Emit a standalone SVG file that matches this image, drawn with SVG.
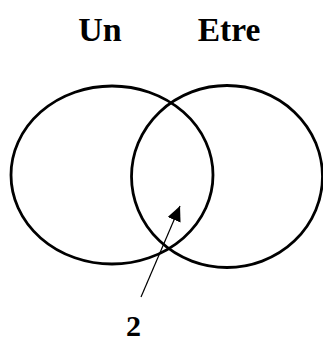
<svg xmlns="http://www.w3.org/2000/svg" width="323" height="341" viewBox="0 0 323 341">
<defs>
<style>
.set{fill:none;stroke:#000;stroke-width:2.8}
.lbl{font-family:"Liberation Serif","Times New Roman",serif;font-weight:bold;fill:#000}
.conn{stroke:#000;stroke-width:1.2;fill:none}
</style>
<marker id="arr" markerUnits="userSpaceOnUse" markerWidth="18" markerHeight="16" refX="15" refY="7" orient="auto">
<path d="M0,0 L15,7 L0,14 Z" fill="#000"/>
</marker>
</defs>
<rect width="323" height="341" fill="#fff"/>
<g id="set-un">
<ellipse class="set" cx="112" cy="175" rx="101" ry="89"/>
<text class="lbl" x="100" y="41" font-size="34" text-anchor="middle">Un</text>
</g>
<g id="set-etre">
<ellipse class="set" cx="227" cy="176.5" rx="95.5" ry="91"/>
<text class="lbl" x="229" y="41" font-size="33.5" text-anchor="middle">Etre</text>
</g>
<g id="label-2">
<text class="lbl" x="133.5" y="336" font-size="30" text-anchor="middle">2</text>
</g>
<g id="connectors">
<line class="conn" x1="141" y1="297" x2="180" y2="206" marker-end="url(#arr)"/>
</g>
</svg>
